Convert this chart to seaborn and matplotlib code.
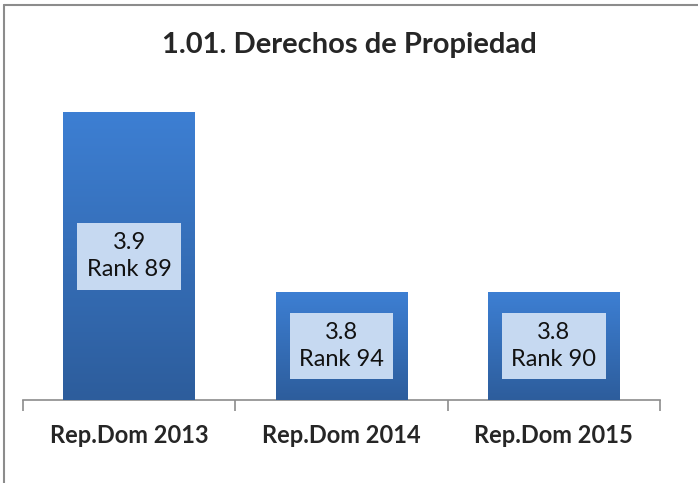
import numpy as np
import pandas as pd
import matplotlib
matplotlib.use("Agg")
import matplotlib.pyplot as plt
import seaborn as sns
from matplotlib.lines import Line2D
from matplotlib.colors import LinearSegmentedColormap

# datos
categorias = ["Rep.Dom 2013", "Rep.Dom 2014", "Rep.Dom 2015"]
valores = [3.9, 3.8, 3.8]
ranks = [89, 94, 90]
titulo = "1.01. Derechos de Propiedad"

df = pd.DataFrame({"pais": categorias, "valor": valores})

sns.set_style("white")
plt.rcParams["font.family"] = ["Lato", "DejaVu Sans"]

W, H = 698, 483
YLIM = (3.740, 3.918)
fig = plt.figure(figsize=(W / 100, H / 100), dpi=100)
ax = fig.add_axes([23 / W, 1 - 400 / H, (660 - 23) / W, (400 - 80) / H])

sns.barplot(data=df, x="pais", y="valor", color="#3a76c4", width=0.62,
            saturation=1, ax=ax, zorder=2)
ax.set_ylim(*YLIM)
ax.set_xlim(-0.5, 2.5)

# degradado azul en cada barra
cmap = LinearSegmentedColormap.from_list("azul", ["#2d5d9c", "#3d7fd3"])
grad = np.linspace(0, 1, 256).reshape(-1, 1)
for bar in ax.patches:
    x0, y0 = bar.get_x(), YLIM[0]
    x1, y1 = x0 + bar.get_width(), bar.get_height()
    im = ax.imshow(grad, cmap=cmap, aspect="auto", origin="lower",
                   extent=[x0, x1, y0, y1], zorder=3)
    im.set_clip_path(bar)
ax.set_xlim(-0.5, 2.5)
ax.set_ylim(*YLIM)

# etiquetas de valor
for i, (v, r) in enumerate(zip(valores, ranks)):
    ymid = (YLIM[0] + v) / 2
    ax.text(i, ymid, f"{v}\nRank {r}", ha="center", va="center", fontsize=17,
            color="#111111", linespacing=1.35, zorder=5,
            bbox=dict(boxstyle="square,pad=0.4", fc="#c6d9f1", ec="none"))

# ejes
for s in ["top", "right", "left"]:
    ax.spines[s].set_visible(False)
ax.spines["bottom"].set_color("#8c8c8c")
ax.spines["bottom"].set_linewidth(1.2)
ax.set_yticks([])
ax.set_xticks([0, 1, 2])
ax.set_xticks([-0.5, 0.5, 1.5, 2.5], minor=True)
ax.tick_params(axis="x", which="major", length=0, pad=17)
ax.tick_params(axis="x", which="minor", length=8, width=1.2, color="#8c8c8c",
               direction="out", bottom=True)
ax.set_xticklabels(categorias, fontsize=17, fontweight="bold")
ax.set_xlabel("")
ax.set_ylabel("")
ax.patch.set_alpha(0)

fig.text(0.5, 1 - 45 / H, titulo, ha="center", va="center", fontsize=21,
         fontweight="bold")

# marco del gráfico (solo arriba e izquierda visibles)
fig.lines.append(Line2D([3.5 / W, 1], [1 - 4.5 / H, 1 - 4.5 / H],
                        transform=fig.transFigure, color="#8c8c8c", lw=1.5))
fig.lines.append(Line2D([3.5 / W, 3.5 / W], [0, 1 - 4.5 / H],
                        transform=fig.transFigure, color="#8c8c8c", lw=1.5))

plt.savefig("out.png", dpi=100)
